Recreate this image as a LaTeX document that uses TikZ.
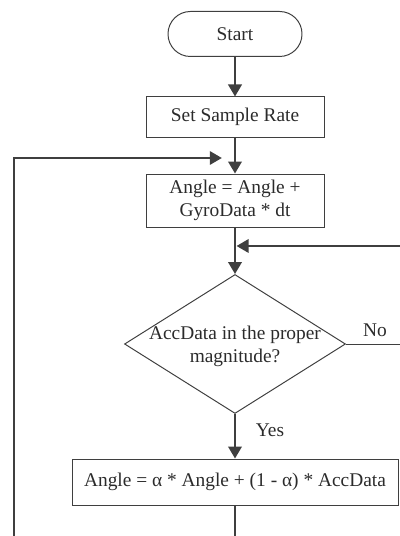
\documentclass[tikz,border=0pt]{standalone}
\usepackage{fontspec}
\setmainfont{Liberation Serif}
\usetikzlibrary{arrows.meta,shapes.geometric}
\definecolor{linegray}{HTML}{3F3F3F}
\definecolor{textgray}{HTML}{2B2B2B}

\begin{document}
\begin{tikzpicture}[>={Triangle[length=0.3cm,width=0.34cm]},
  every node/.style={text=textgray, font=\fontsize{13.8}{16.4}\selectfont},
  procbox/.style={draw=linegray, line width=0.7pt, rectangle, align=center, inner sep=0pt},
  flow/.style={draw=linegray, line width=1.4pt, ->},
  loopline/.style={draw=linegray, line width=1.1pt}]
  \useasboundingbox (0,0) rectangle (10,13.4);

  % Main column
  \node[procbox, rounded corners=0.56cm, minimum width=3.35cm, minimum height=1.125cm] (start) at (5.875, 12.55) {Start};
  \node[procbox, minimum width=4.45cm, minimum height=1cm] (rate) at (5.875, 10.475) {Set Sample Rate};
  \node[procbox, minimum width=4.45cm, minimum height=1.325cm] (gyro) at (5.875, 8.3875) {Angle = Angle +\\GyroData * dt};
  \node[diamond, draw=linegray, line width=0.7pt, inner sep=0pt, minimum width=5.525cm, minimum height=3.475cm] (dec) at (5.875, 4.8) {};
  \node[align=center, inner sep=0pt] (dectext) at (5.875, 4.75) {AccData in the proper\\magnitude?};
  \node[procbox, minimum width=8.15cm, minimum height=1.15cm] (fuse) at (5.875, 1.35) {Angle = α * Angle + (1 - α) * AccData};

  % Branch labels
  \node (nolabel) at (9.375, 5.15) {No};
  \node (yeslabel) at (6.75, 2.65) {Yes};

  % Loose ends at the border
  \coordinate (leftend) at (0.35, 0);
  \coordinate (upjoin) at (5.875, 9.45);
  \coordinate (rightend) at (10, 7.25);
  \coordinate (downjoin) at (5.875, 7.25);
  \coordinate (noend) at (10, 4.8);
  \coordinate (bottomend) at (5.875, 0);

  % Connectors
  \draw[flow] (start) -- (rate);
  \draw[flow] (rate) -- (gyro);
  \draw[flow] (gyro.south) -- (dec.north);
  \draw[flow] (dec.south) -- (fuse.north);
  \draw[loopline] (fuse.south) -- (bottomend);
  \draw[loopline, ->, shorten >=0.33cm] (leftend) |- (upjoin);
  \draw[loopline, ->, shorten >=0.04cm] (rightend) -- (downjoin);
  \draw[draw=linegray, line width=0.7pt] (dec.east) -- (noend);
\end{tikzpicture}
\end{document}
